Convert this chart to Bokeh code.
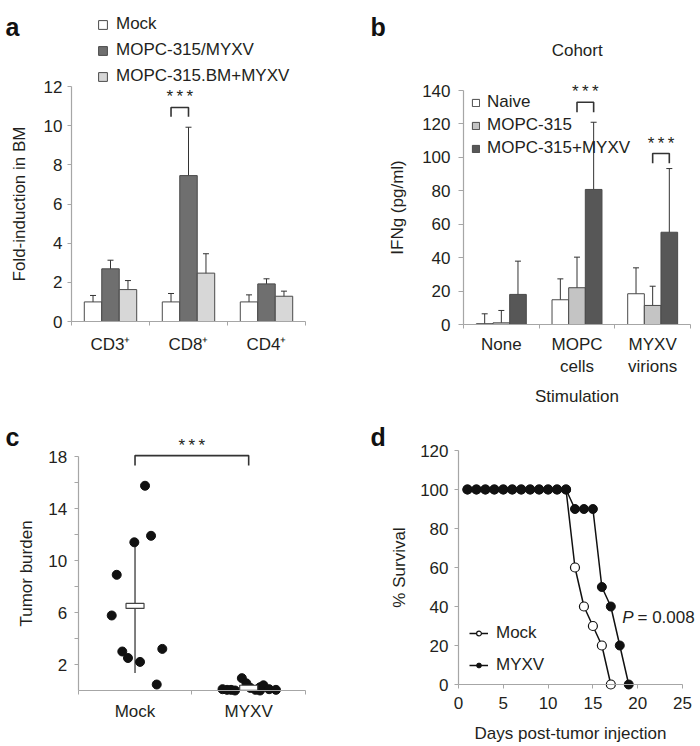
import numpy as np
from bokeh.plotting import figure
from bokeh.models import (ColumnDataSource, Whisker, TeeHead, FixedTicker, Label,
                          Legend, LegendItem, Range1d)
from bokeh.layouts import row, column
from bokeh.embed import file_html
from bokeh.resources import INLINE

FONT = "Liberation Sans"
TXT = "#231f20"
AXC = "#a6a6a6"
EDGE = "#4a4a4a"
FS = "17px"

# ---------------- data: panel a ----------------
a_groups = ["CD3⁺", "CD8⁺", "CD4⁺"]
a_series = ["Mock", "MOPC-315/MYXV", "MOPC-315.BM+MYXV"]
a_mock = [1.0, 1.0, 1.0]
a_mock_lo = [0.75, 0.6, 0.73]
a_mock_hi = [1.33, 1.43, 1.36]
a_mopc = [2.69, 7.45, 1.92]
a_mopc_lo = [2.30, 5.05, 1.67]
a_mopc_hi = [3.13, 9.92, 2.18]
a_bm = [1.63, 2.47, 1.29]
a_bm_lo = [1.24, 1.5, 1.02]
a_bm_hi = [2.09, 3.46, 1.55]
a_colors = ["#ffffff", "#6f6f6f", "#d7d7d7"]
a_ticks = [0, 2, 4, 6, 8, 10, 12]
a_sig_y = [10.45, 10.93]          # bracket: CD8, Mock vs MOPC-315/MYXV

# ---------------- data: panel b ----------------
b_groups = ["None", "MOPC\ncells", "MYXV\nvirions"]
b_series = ["Naive", "MOPC-315", "MOPC-315+MYXV"]
b_naive = [0.5, 14.8, 18.4]
b_naive_lo = [0.0, 2.0, 2.4]
b_naive_hi = [6.4, 27.3, 33.9]
b_mopc = [1.0, 22.0, 11.4]
b_mopc_lo = [0.0, 4.0, 0.0]
b_mopc_hi = [8.4, 40.3, 22.9]
b_myxv = [18.0, 80.8, 55.2]
b_myxv_lo = [0.0, 40.3, 18.0]
b_myxv_hi = [37.9, 121.0, 93.3]
b_colors = ["#ffffff", "#c4c4c4", "#575757"]
b_ticks = [0, 20, 40, 60, 80, 100, 120, 140]
b_sig_y = [[127.0, 133.0], [96.4, 102.3]]   # MOPC cells, MYXV virions

# ---------------- data: panel c ----------------
c_groups = ["Mock", "MYXV"]
c_mock = [15.75, 11.9, 11.4, 8.9, 5.77, 3.0, 2.5, 2.2, 3.2, 0.46]
c_mock_jit = [0.088, 0.141, -0.006, -0.161, -0.205, -0.112, -0.062, 0.044, 0.240, 0.191]
c_myxv = [0.1, 0.05, 0.05, 0.0, 0.95, 0.55, 0.2, 0.05, 0.25, 0.4, 0.1, 0.05, 0.0]
c_myxv_jit = [-0.23, -0.19, -0.155, -0.12, -0.06, -0.02, 0.015, 0.06, 0.10, 0.13, 0.18, 0.24, 0.10]
c_ticks = [2, 6, 10, 14, 18]
c_minor = [4, 8, 12, 16]
c_sig_y = [17.3, 18.07]

# ---------------- data: panel d ----------------
d_mock_days = [1, 2, 3, 4, 5, 6, 7, 8, 9, 10, 11, 12, 13, 14, 15, 16, 17]
d_mock_surv = [100, 100, 100, 100, 100, 100, 100, 100, 100, 100, 100, 100, 60, 40, 30, 20, 0]
d_myxv_days = [1, 2, 3, 4, 5, 6, 7, 8, 9, 10, 11, 12, 13, 14, 15, 16, 17, 18, 19]
d_myxv_surv = [100, 100, 100, 100, 100, 100, 100, 100, 100, 100, 100, 100, 90, 90, 90, 50, 40, 20, 0]
d_xticks = [0, 5, 10, 15, 20, 25]
d_yticks = [0, 20, 40, 60, 80, 100, 120]
d_pval = "= 0.008"


def make_fig(left, top, w, h, xa, ya, xloc, yloc, xbounds, ybounds):
    """Figure whose frame fills it; axes drawn at fixed data locations.
    xa/ya: ((page_px, value), (page_px, value)) anchors of the axis ends."""
    (px0, v0), (px1, v1) = xa
    sx = (px1 - px0) / (v1 - v0)
    xs = v0 - (px0 - left) / sx
    xe = v0 + (left + w - px0) / sx
    (py0, u0), (py1, u1) = ya
    sy = (py0 - py1) / (u1 - u0)
    ys = u0 - (top + h - py0) / sy
    ye = u0 + (py0 - top) / sy
    p = figure(width=w, height=h, min_border=0, x_range=Range1d(xs, xe),
               y_range=Range1d(ys, ye), output_backend="svg", toolbar_location=None, tools="")
    p.xgrid.visible = False
    p.ygrid.visible = False
    p.outline_line_color = None
    p.background_fill_color = "white"
    p.border_fill_color = "white"
    p.xaxis[0].fixed_location = yloc
    p.yaxis[0].fixed_location = xloc
    p.xaxis[0].bounds = xbounds
    p.yaxis[0].bounds = ybounds
    for ax in (p.xaxis[0], p.yaxis[0]):
        ax.axis_line_color = AXC
        ax.axis_line_width = 1.2
        ax.major_tick_line_color = AXC
        ax.minor_tick_line_color = AXC
        ax.major_tick_in = 0
        ax.minor_tick_in = 0
        ax.major_tick_out = 4
        ax.minor_tick_out = 4
        ax.major_label_text_font = FONT
        ax.major_label_text_font_size = FS
        ax.major_label_text_color = TXT
        ax.axis_label_text_font = FONT
        ax.axis_label_text_font_size = FS
        ax.axis_label_text_color = TXT
        ax.axis_label_text_font_style = "normal"
    return p


def add_text(p, x, y, text, align="left", baseline="alphabetic", size=FS, style="normal",
             color=TXT):
    p.add_layout(Label(x=x, y=y, x_units="screen", y_units="screen", text=text,
                       text_font=FONT, text_font_style=style, text_font_size=size,
                       text_color=color, text_align=align, text_baseline=baseline))


def bracket(p, x1, x2, y_lo, y_hi):
    p.line([x1, x1, x2, x2], [y_lo, y_hi, y_hi, y_lo], line_color="#333333", line_width=1.6)
    p.add_layout(Label(x=(x1 + x2) / 2, y=y_hi, text="*\u2009*\u2009*", text_align="center",
                       text_baseline="bottom", text_font=FONT, text_font_size=FS,
                       text_color=TXT, y_offset=1))


def legend_style(lg, gw, gh, standoff, spacing):
    lg.label_text_font = FONT
    lg.label_text_font_size = FS
    lg.label_text_color = TXT
    lg.glyph_width = gw
    lg.glyph_height = gh
    lg.label_standoff = standoff
    lg.label_height = 20
    lg.spacing = spacing
    lg.padding = 0
    lg.margin = 0
    lg.border_line_color = None
    lg.background_fill_alpha = 0


def grouped_bars(p, values_list, lo_list, hi_list, colors, width):
    n = len(values_list[0])
    centers = np.arange(1, n + 1)
    offsets = [-width, 0.0, width]
    rends = []
    for vals, lo, hi, col, off in zip(values_list, lo_list, hi_list, colors, offsets):
        src = ColumnDataSource(dict(x=centers + off, top=vals, lo=lo, hi=hi))
        r = p.vbar(x="x", top="top", width=width, source=src, fill_color=col,
                   line_color=EDGE, line_width=1)
        p.add_layout(Whisker(base="x", lower="lo", upper="hi", source=src,
                             line_color="#333333", line_width=1,
                             upper_head=TeeHead(size=6, line_color="#333333", line_width=1),
                             lower_head=TeeHead(size=6, line_color="#333333", line_width=1)))
        rends.append(r)
    return rends


def cat_axis(ax, labels):
    n = len(labels)
    ax.ticker = FixedTicker(ticks=list(range(1, n + 1)),
                            minor_ticks=[i + 0.5 for i in range(0, n + 1)])
    ax.major_label_overrides = {i + 1: lab for i, lab in enumerate(labels)}
    ax.major_tick_out = 0
    ax.minor_tick_out = 4


# ================= panel a =================  (page box x 0..350, y 0..406)
pa = make_fig(0, 0, 350, 406, ((71, 0.5), (305, 3.5)), ((321, 0), (86, 12)),
              0.5, 0, (0.5, 3.5), (0, 12))
ra = grouped_bars(pa, [a_mock, a_mopc, a_bm], [a_mock_lo, a_mopc_lo, a_bm_lo],
                  [a_mock_hi, a_mopc_hi, a_bm_hi], a_colors, 0.224)
cat_axis(pa.xaxis[0], a_groups)
pa.xaxis[0].major_label_standoff = 9
pa.yaxis[0].ticker = FixedTicker(ticks=a_ticks)
pa.yaxis[0].axis_label = "Fold-induction in BM"
pa.yaxis[0].axis_label_standoff = 12
pa.yaxis[0].major_label_standoff = 5
bracket(pa, 2 - 0.224, 2.0, a_sig_y[0], a_sig_y[1])
lga = Legend(items=[LegendItem(label=s, renderers=[r]) for s, r in zip(a_series, ra)],
             location=(97, 320))
legend_style(lga, 11, 11, 8, 6)
pa.add_layout(lga)
add_text(pa, 5, 379.3, "a", size="25px", style="bold", color="#111111")

# ================= panel b =================  (page box x 350..700, y 0..406)
pb = make_fig(350, 0, 350, 406, ((463, 0.5), (690, 3.5)), ((324, 0), (90, 140)),
              0.5, 0, (0.5, 3.5), (0, 140))
rb = grouped_bars(pb, [b_naive, b_mopc, b_myxv], [b_naive_lo, b_mopc_lo, b_myxv_lo],
                  [b_naive_hi, b_mopc_hi, b_myxv_hi], b_colors, 0.22)
cat_axis(pb.xaxis[0], b_groups)
pb.xaxis[0].major_label_standoff = 6
pb.xaxis[0].axis_label = "Stimulation"
pb.xaxis[0].axis_label_standoff = 8
pb.yaxis[0].ticker = FixedTicker(ticks=b_ticks)
pb.yaxis[0].major_tick_out = 5
pb.yaxis[0].major_label_standoff = 8
pb.yaxis[0].axis_label = "IFNg (pg/ml)"
pb.yaxis[0].axis_label_standoff = 12
bracket(pb, 2.0, 2.22, b_sig_y[0][0], b_sig_y[0][1])
bracket(pb, 3.0, 3.22, b_sig_y[1][0], b_sig_y[1][1])
lgb = Legend(items=[LegendItem(label=s, renderers=[r]) for s, r in zip(b_series, rb)],
             location=(121, 248))
legend_style(lgb, 9, 9, 7, 3)
pb.add_layout(lgb)
add_text(pb, 226.7, 356, "Cohort", align="center", baseline="middle")
add_text(pb, 20, 380, "b", size="25px", style="bold", color="#111111")

# ================= panel c =================  (page box x 0..350, y 406..746)
pc = make_fig(0, 406, 350, 340, ((77.7, 0.5), (305, 2.5)), ((690, 0), (456, 18)),
              0.5, 0, (0.5, 2.5), (0, 18))
mock_vals = np.array(c_mock)
myxv_vals = np.array(c_myxv)
means = [mock_vals.mean(), myxv_vals.mean()]
sds = [mock_vals.std(ddof=1), myxv_vals.std(ddof=1)]
pc.segment(x0=[1, 2], x1=[1, 2], y0=[m - s for m, s in zip(means, sds)],
           y1=[m + s for m, s in zip(means, sds)], line_color="#555555", line_width=1.5)
pc.scatter(x=1 + np.array(c_mock_jit), y=mock_vals, size=9, fill_color="#111111",
           line_color="#111111")
pc.scatter(x=2 + np.array(c_myxv_jit), y=myxv_vals, size=9, fill_color="#111111",
           line_color="#111111")
pc.rect(x=[1, 2], y=means, width=18, height=5, width_units="screen", height_units="screen",
        fill_color="white", line_color="#444444", line_width=1.2)
cat_axis(pc.xaxis[0], c_groups)
pc.xaxis[0].major_label_standoff = 7
pc.yaxis[0].ticker = FixedTicker(ticks=c_ticks, minor_ticks=c_minor)
pc.yaxis[0].major_label_standoff = 7
pc.yaxis[0].axis_label = "Tumor burden"
pc.yaxis[0].axis_label_standoff = 10
bracket(pc, 1.0, 2.0, c_sig_y[0], c_sig_y[1])
add_text(pc, 5, 309.3, "c", size="25px", style="bold", color="#111111")

# ================= panel d =================  (page box x 350..700, y 406..746)
pd_ = make_fig(350, 406, 350, 340, ((458, 0), (682, 25)), ((684, 0), (450, 120)),
               0, 0, (0, 25), (0, 120))
l1 = pd_.line(d_mock_days, d_mock_surv, line_color="#111111", line_width=1.5)
s1 = pd_.scatter(d_mock_days, d_mock_surv, size=9, fill_color="white", line_color="#111111",
                 line_width=1.2)
l2 = pd_.line(d_myxv_days, d_myxv_surv, line_color="#111111", line_width=1.5)
s2 = pd_.scatter(d_myxv_days, d_myxv_surv, size=9, fill_color="#111111", line_color="#111111")
pd_.xaxis[0].ticker = FixedTicker(ticks=d_xticks)
pd_.xaxis[0].major_label_standoff = 8
pd_.xaxis[0].axis_label = "Days post-tumor injection"
pd_.xaxis[0].axis_label_standoff = 12
pd_.yaxis[0].ticker = FixedTicker(ticks=d_yticks)
pd_.yaxis[0].major_label_standoff = 6
pd_.yaxis[0].axis_label = "% Survival"
pd_.yaxis[0].axis_label_standoff = 8
lgd = Legend(items=[LegendItem(label="Mock", renderers=[l1, s1]),
                    LegendItem(label="MYXV", renderers=[l2, s2])], location=(119, 71))
legend_style(lgd, 19, 12, 8, 12)
pd_.add_layout(lgd)
add_text(pd_, 271.7, 129.3, "P", baseline="middle", style="italic")
add_text(pd_, 287, 129.3, d_pval, baseline="middle")
add_text(pd_, 20, 309.3, "d", size="25px", style="bold", color="#111111")

layout = column(row(pa, pb), row(pc, pd_))
open("out.html", "w").write(file_html(layout, INLINE))
